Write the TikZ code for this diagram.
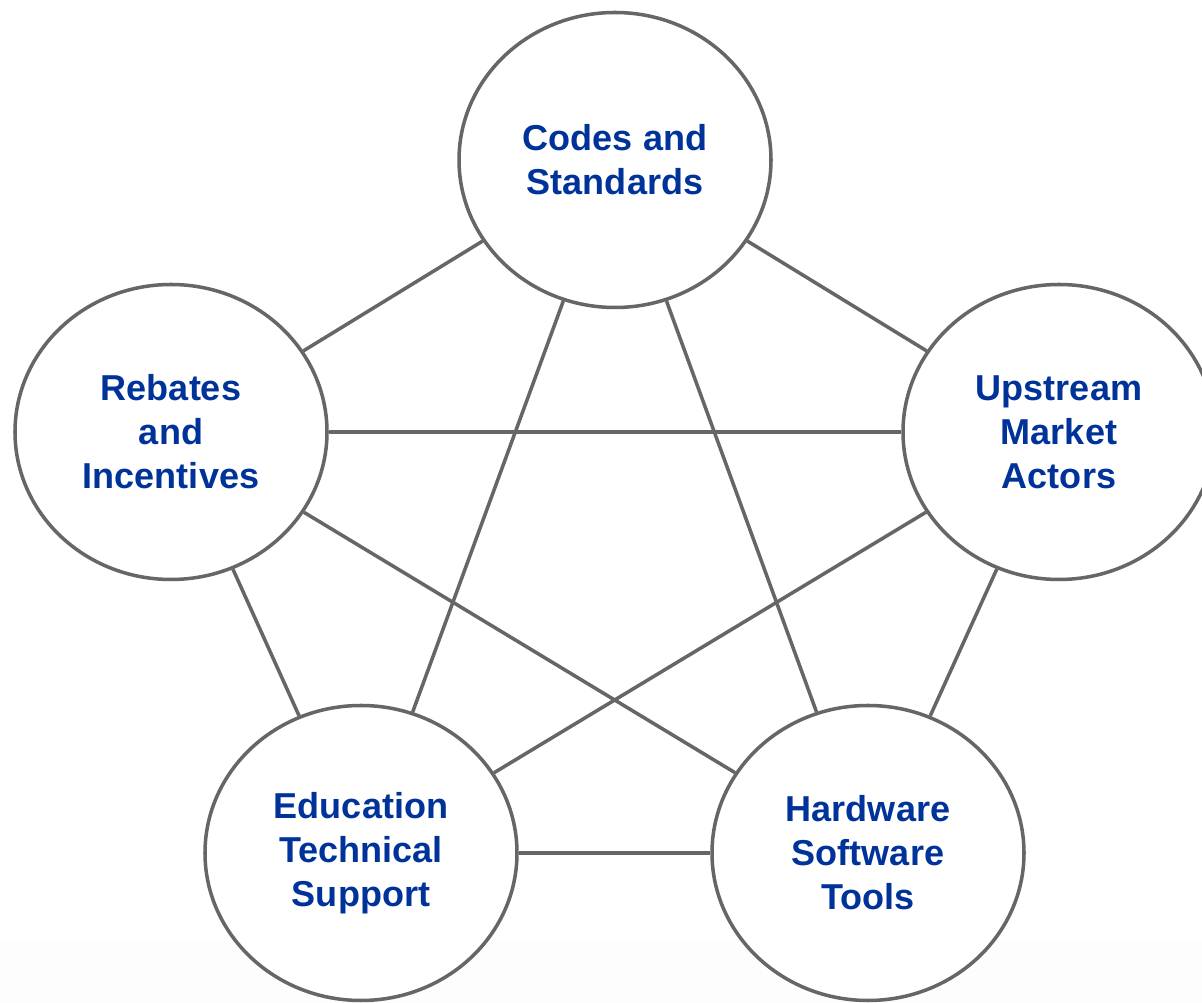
\documentclass[tikz,border=0pt]{standalone}
\usepackage{fontspec}
\setmainfont{Liberation Sans}
\usepackage{tikz}
\usetikzlibrary{shapes.geometric}
\definecolor{labelblue}{RGB}{0,51,153}
\definecolor{linegray}{RGB}{102,102,102}
\definecolor{bottomgray}{RGB}{253,253,253}
\tikzset{topic/.style={ellipse, draw=linegray, line width=2pt, fill=white,
  minimum width=6.24cm, minimum height=5.9cm, inner sep=0pt, align=center,
  text=labelblue, font=\fontsize{20.5}{25}\selectfont\bfseries}}
\tikzset{link/.style={draw=linegray, line width=2pt}}

\begin{document}
\begin{tikzpicture}
\fill[white] (0,0) rectangle (24.04,20.06);
\fill[bottomgray] (0,0) rectangle (24.04,1.26);
\useasboundingbox (0,0) rectangle (24.04,20.06);
\node[topic] (codes) at (12.30,16.86) {Codes and\\Standards};
\node[topic] (rebates) at (3.42,11.42) {Rebates\\and\\Incentives};
\node[topic] (upstream) at (21.18,11.42) {Upstream\\Market\\Actors};
\node[topic] (education) at (7.22,3.00) {Education\\Technical\\Support};
\node[topic] (hardware) at (17.36,3.00) {Hardware\\Software\\Tools};
% outer ring
\draw[link] (codes) -- (rebates);
\draw[link] (codes) -- (upstream);
\draw[link] (rebates) -- (education);
\draw[link] (upstream) -- (hardware);
\draw[link] (education) -- (hardware);
% inner star
\draw[link] (rebates) -- (upstream);
\draw[link] (codes) -- (education);
\draw[link] (codes) -- (hardware);
\draw[link] (rebates) -- (hardware);
\draw[link] (upstream) -- (education);
\end{tikzpicture}
\end{document}
